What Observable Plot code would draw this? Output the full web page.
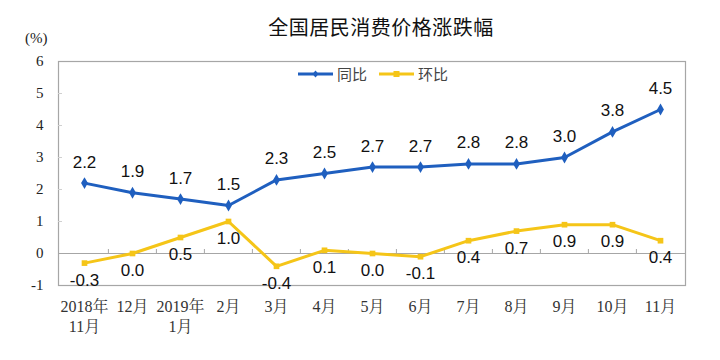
<!DOCTYPE html>
<html>
<head>
<meta charset="utf-8">
<script src="https://cdn.jsdelivr.net/npm/d3@7"></script>
<script src="https://cdn.jsdelivr.net/npm/@observablehq/plot@0.6"></script>
<style>
  html, body { margin: 0; padding: 0; background: #fff; }
  #wrap { position: relative; width: 720px; height: 360px; overflow: hidden; }
  #title { position: absolute; top: 12px; left: 0; width: 762px; text-align: center;
           font-family: "Noto Sans CJK SC", sans-serif; font-size: 20px; color: #111; letter-spacing: 0.5px; }
  #unit { position: absolute; top: 30px; left: 25px; font-family: "Liberation Serif", serif; font-size: 15px; color: #222; }
  #legend { position: absolute; top: 63px; left: 298px; display: flex; align-items: center;
            font-family: "Noto Sans CJK SC", sans-serif; font-size: 15px; color: #444; }
  #legend span.item { display: inline-flex; align-items: center; margin-right: 12px; }
  #legend svg { margin-right: 3px; }
</style>
</head>
<body>
<div id="wrap">
  <div id="title">全国居民消费价格涨跌幅</div>
  <div id="unit">(%)</div>
  <div id="legend"></div>
</div>
<script>
const months = ["2018年\n11月", "12月", "2019年\n1月", "2月", "3月", "4月", "5月", "6月", "7月", "8月", "9月", "10月", "11月"];
const yoy = [2.2, 1.9, 1.7, 1.5, 2.3, 2.5, 2.7, 2.7, 2.8, 2.8, 3.0, 3.8, 4.5];
const mom = [-0.3, 0.0, 0.5, 1.0, -0.4, 0.1, 0.0, -0.1, 0.4, 0.7, 0.9, 0.9, 0.4];
const yTicks = [-1, 0, 1, 2, 3, 4, 5, 6];
const seriesNames = ["同比", "环比"];

const blue = "#1f5fbf";
const yellow = "#f5c518";

const rows = months.map((m, i) => ({month: m, yoy: yoy[i], mom: mom[i]}));

const serif = "'Liberation Serif', 'Noto Serif CJK SC', 'Noto Sans CJK SC', serif";
const sans = "'Liberation Sans', Arial, sans-serif";

const chart = Plot.plot({
  width: 720,
  height: 360,
  marginLeft: 58,
  marginRight: 35,
  marginTop: 61,
  marginBottom: 75,
  style: {fontFamily: serif, fontSize: "15px", color: "#222", background: "transparent"},
  x: {type: "point", domain: months, padding: 0.5, axis: null},
  y: {domain: [-1, 6], axis: null},
  marks: [
    Plot.frame({stroke: "#a6a6a6", strokeWidth: 1.2}),
    Plot.axisY(yTicks, {tickSize: 0, tickPadding: 15, fontSize: 15, fontFamily: serif, tickFormat: d => String(d)}),
    Plot.axisY(yTicks.slice(1, -1), {tickSize: 4, dx: 4, stroke: "#d0d0d0", tickFormat: () => ""}),
    Plot.ruleY([0], {stroke: "#a6a6a6", strokeWidth: 1.2}),
    Plot.ruleX(months.slice(1), {x: d => d, y1: 0, y2: 0, insetTop: -4, dx: -24.1, stroke: "#a6a6a6"}),
    Plot.text(months, {x: d => d, text: d => d, frameAnchor: "bottom", dy: 12, lineAnchor: "top", lineHeight: 1.25, fontSize: 16, fontFamily: serif, fill: "#333"}),
    Plot.line(rows, {x: "month", y: "yoy", stroke: blue, strokeWidth: 3}),
    Plot.dot(rows, {x: "month", y: "yoy", symbol: "diamond", r: 3.6, fill: blue, stroke: "none"}),
    Plot.line(rows, {x: "month", y: "mom", stroke: yellow, strokeWidth: 3}),
    Plot.dot(rows, {x: "month", y: "mom", symbol: "square", r: 3.2, fill: yellow, stroke: "none"}),
    Plot.text(rows, {x: "month", y: "yoy", text: d => d.yoy.toFixed(1), dy: -21, fontSize: 17, fontFamily: sans, fill: "#111"}),
    Plot.text(rows, {x: "month", y: "mom", text: d => d.mom.toFixed(1), dy: 17, fontSize: 17, fontFamily: sans, fill: "#111"})
  ]
});
const wrap = document.getElementById("wrap");
wrap.insertBefore(chart, wrap.firstChild);

const legend = document.getElementById("legend");
const colors = [blue, yellow];
seriesNames.forEach((name, i) => {
  const item = document.createElement("span");
  item.className = "item";
  const marker = i === 0
    ? `<path d="M17.5 14.5 L20.5 18 L17.5 21.5 L14.5 18 Z" fill="${colors[i]}"/>`
    : `<rect x="14.5" y="15" width="6" height="6" fill="${colors[i]}"/>`;
  item.innerHTML = `<svg width="36" height="20" viewBox="0 0 36 36" style="width:36px;height:36px;margin-top:-8px;margin-bottom:-8px"><line x1="0" y1="18" x2="35" y2="18" stroke="${colors[i]}" stroke-width="3"/>${marker}</svg>${name}`;
  legend.appendChild(item);
});
</script>
</body>
</html>
